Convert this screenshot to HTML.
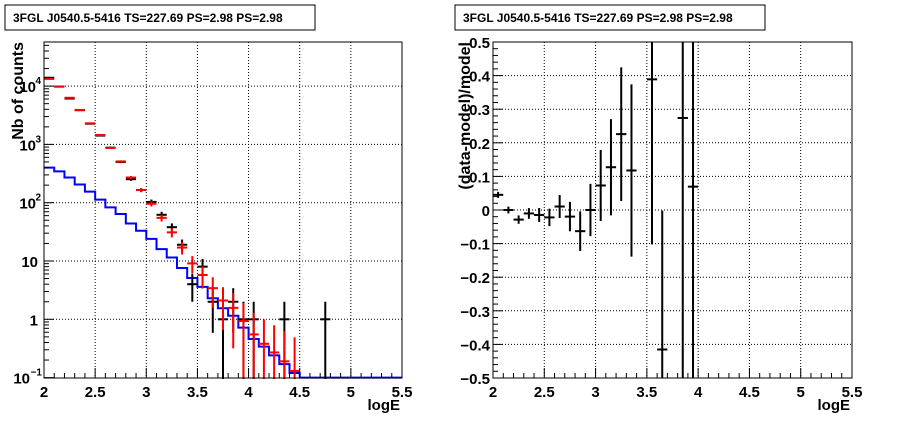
<!DOCTYPE html>
<html><head><meta charset="utf-8"><style>
html,body{margin:0;background:#fff;overflow:hidden;width:898px;height:421px;}
svg{display:block;font-family:"Liberation Sans",sans-serif;font-weight:bold;}
</style></head><body>
<svg id="c" width="898" height="421" viewBox="0 0 898 421"></svg>
<script>
const binCenters=[2.05,2.15,2.25,2.35,2.45,2.55,2.65,2.75,2.85,2.95,3.05,3.15,3.25,3.35,3.45,3.55,3.65,3.75,3.85,3.95,4.05,4.15,4.25,4.35,4.45,4.55,4.65,4.75,4.85,4.95,5.05,5.15,5.25,5.35,5.45];
const dataCounts=[13900,9800,6120,3860,2266,1418,879,500,253,165,103,62,38,19,4,8,2,1,2,1,1,0,0,1,0,0,0,1,0,0,0,0,0,0,0];
const modelCounts=[13300,9800,6300,3900,2300,1450,870,510,270,165,96,55,31,17,9.1,5.76,3.42,2.1,1.57,0.935,0.55,0.38,0.27,0.19,0.13,0.09,0.06,0.04,0.03,0.02,0.01,0.01,0.01,0.01,0.01];
const bkgCounts=[400,345,270,205,155,113,83,64,44,33,24,16,11.5,7.6,5.1,3.6,2.3,1.55,1.15,0.72,0.46,0.34,0.24,0.17,0.12,0.1,0.1,0.1,0.1,0.1,0.1,0.1,0.1,0.1,0.1];
const xTicks=[2,2.5,3,3.5,4,4.5,5,5.5];
const logTicks=[-1,0,1,2,3,4];
const resTicks=[-0.5,-0.4,-0.3,-0.2,-0.1,0,0.1,0.2,0.3,0.4,0.5];
const title="3FGL J0540.5-5416 TS=227.69 PS=2.98 PS=2.98";

const NS="http://www.w3.org/2000/svg";
const svg=document.getElementById('c');
function mk(tag,attrs,parent){const e=document.createElementNS(NS,tag);for(const k in attrs)e.setAttribute(k,attrs[k]);(parent||svg).appendChild(e);return e;}
function line(x1,y1,x2,y2,st,w,dash,p){return mk('line',{x1,y1,x2,y2,stroke:st,'stroke-width':w,'stroke-dasharray':dash||'none'},p);}

const L={x0:44,x1:402,y0:378,y1:42};
const lx=v=>L.x0+(v-2)/3.5*(L.x1-L.x0);
const ly=v=>261-(Math.log10(v)-1)*58.3;
const R={x0:493,x1:852,y0:378,y1:42};
const rx=v=>R.x0+(v-2)/3.5*(R.x1-R.x0);
const ry=v=>R.y0-(v+0.5)*(R.y0-R.y1);

function titleBox(x,label){
  const g=mk('g',{});
  
  
  mk('rect',{x:x,y:5,width:310,height:25,fill:'#fff',stroke:'#000','stroke-width':1},g);
  const t=mk('text',{x:x+8,y:22,'font-size':12},g);t.textContent=title;
}
titleBox(5,'left-title');titleBox(455,'right-title');

const gl=mk('g',{});


xTicks.slice(1,-1).forEach(v=>line(lx(v),L.y1,lx(v),L.y0,'#000',1,'1,2',gl));
logTicks.slice(1).forEach(v=>line(L.x0,ly(Math.pow(10,v)),L.x1,ly(Math.pow(10,v)),'#000',1,'1,2',gl));
const clip=mk('clipPath',{id:'cl'});mk('rect',{x:L.x0,y:L.y1,width:L.x1-L.x0,height:L.y0-L.y1+1},clip);
const clipR=mk('clipPath',{id:'cr'});mk('rect',{x:R.x0,y:R.y1,width:R.x1-R.x0,height:R.y0-R.y1},clipR);
const pl=mk('g',{'clip-path':'url(#cl)'},gl);
let d='';
binCenters.forEach((c,i)=>{const y=ly(Math.max(bkgCounts[i],0.05));d+=(i===0?'M':'L')+lx(c-0.05)+','+y+'L'+lx(c+0.05)+','+y;});
const bk=mk('path',{d:d,fill:'none',stroke:'#0000ff','stroke-width':2},pl);


function yc(v){return v<=0?L.y0+5:ly(v);}
binCenters.forEach((c,i)=>{
  const n=dataCounts[i];
  if(n>0){
    const g=mk('g',{},pl);
    
    
    const e=Math.sqrt(n);
    line(lx(c),yc(n-e),lx(c),yc(n+e),'#000',2,null,g);
    line(lx(c-0.05),ly(n),lx(c+0.05),ly(n),'#000',2,null,g);
  }
});
binCenters.forEach((c,i)=>{
  const m=modelCounts[i];
  if(m>=0.1){
    const g=mk('g',{},pl);
    
    
    const e=Math.sqrt(m);
    line(lx(c),yc(m-e),lx(c),yc(m+e),'#ff0000',2,null,g);
    line(lx(c-0.05),ly(m),lx(c+0.05),ly(m),'#ff0000',2,null,g);
  }
});
mk('rect',{x:L.x0,y:L.y1,width:L.x1-L.x0,height:L.y0-L.y1,fill:'none',stroke:'#000','stroke-width':1},gl);
for(let v=2;v<=5.501;v+=0.1){const maj=Math.abs(v*2-Math.round(v*2))<1e-6;line(lx(v),L.y0,lx(v),L.y0-(maj?10:5),'#000',1,null,gl);}
xTicks.forEach(v=>{const t=mk('text',{x:lx(v),y:L.y0+19,'font-size':15,'text-anchor':'middle'},gl);t.textContent=String(v);});
logTicks.forEach(p=>{
  line(L.x0,ly(Math.pow(10,p)),L.x0+10,ly(Math.pow(10,p)),'#000',1,null,gl);
  for(let k=2;k<=9;k++){const v=k*Math.pow(10,p);if(ly(v)>=L.y1)line(L.x0,ly(v),L.x0+5,ly(v),'#000',1,null,gl);}
  const y=ly(Math.pow(10,p));
  const t=mk('text',{'font-size':15,'text-anchor':'end',y:y+6},gl);
  
  if(p===0){t.setAttribute('x',L.x0-6);t.textContent='1';}
  else if(p===1){t.setAttribute('x',L.x0-6);t.textContent='10';}
  else{t.setAttribute('x',L.x0-(p<0?14:8));t.textContent='10';const s=mk('text',{x:L.x0-(p<0?2:3),y:y-2,'font-size':10,'text-anchor':'end'},gl);s.textContent=String(p).replace('-','\u2212');}
});
let t=mk('text',{x:400,y:410,'font-size':15,'text-anchor':'end'},gl);t.textContent='logE';
t=mk('text',{x:0,y:0,'font-size':16,'text-anchor':'end',transform:'translate(23,42) rotate(-90)'},gl);t.textContent='Nb of counts';

const gr=mk('g',{});


xTicks.slice(1,-1).forEach(v=>line(rx(v),R.y1,rx(v),R.y0,'#000',1,'1,2',gr));
resTicks.slice(1,-1).forEach(v=>line(R.x0,ry(v),R.x1,ry(v),'#000',1,'1,2',gr));
const pr=mk('g',{'clip-path':'url(#cr)'},gr);
binCenters.forEach((c,i)=>{
  const n=dataCounts[i],m=modelCounts[i];
  if(n<=0)return;
  const r=(n-m)/m,e=Math.sqrt(n)/m;
  if(r<-0.5||r>0.5)return;
  const g=mk('g',{},pr);
  
  
  line(rx(c),ry(r-e),rx(c),ry(r+e),'#000',2,null,g);
  line(rx(c-0.05),ry(r),rx(c+0.05),ry(r),'#000',2,null,g);
});
mk('rect',{x:R.x0,y:R.y1,width:R.x1-R.x0,height:R.y0-R.y1,fill:'none',stroke:'#000','stroke-width':1},gr);
for(let v=2;v<=5.501;v+=0.1){const maj=Math.abs(v*2-Math.round(v*2))<1e-6;line(rx(v),R.y0,rx(v),R.y0-(maj?10:5),'#000',1,null,gr);}
xTicks.forEach(v=>{const t=mk('text',{x:rx(v),y:R.y0+19,'font-size':15,'text-anchor':'middle'},gr);t.textContent=String(v);});
for(let k=0;k<=50;k++){const v=-0.5+k*0.02;line(R.x0,ry(v),R.x0+(k%5===0?10:5),ry(v),'#000',1,null,gr);}
resTicks.forEach(v=>{const t=mk('text',{x:R.x0-3,y:ry(v)+6,'font-size':15,'text-anchor':'end'},gr);t.textContent=(Math.abs(v)<1e-9?'0':(v<0?'\u2212':'')+Math.abs(v).toFixed(1));});
t=mk('text',{x:850,y:410,'font-size':15,'text-anchor':'end'},gr);t.textContent='logE';
t=mk('text',{x:0,y:0,'font-size':16,'text-anchor':'end',transform:'translate(470,42) rotate(-90)'},gr);t.textContent='(data-model)/model';
</script>
</body></html>
